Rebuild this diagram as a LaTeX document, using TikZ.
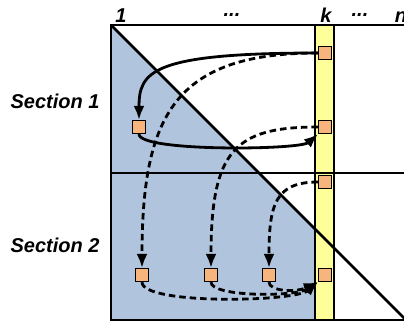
\documentclass[tikz,border=0pt]{standalone}
\usepackage{fontspec}
\setmainfont{Liberation Sans}
\usetikzlibrary{arrows.meta}
\definecolor{blueA}{RGB}{176,196,222}
\definecolor{yelA}{RGB}{255,255,153}
\definecolor{orA}{RGB}{248,180,125}
\tikzset{
  sq/.style={draw=black,fill=orA,line width=1.2pt,minimum size=13pt,inner sep=0pt},
  lab/.style={font=\fontsize{20}{20}\selectfont\bfseries\itshape,inner sep=0pt},
  grid/.style={line width=2.5pt},
  arr/.style={line width=2.8pt,-{Latex[length=14pt,width=11pt]}},
  darr/.style={arr,dash pattern=on 6.5pt off 4pt},
}
\begin{document}
\begin{tikzpicture}[x=1pt,y=-1pt]
\useasboundingbox (0,0) rectangle (404,325);
% blue region
\fill[blueA] (111,25) -- (111,320) -- (315,320) -- (315,229) -- cycle;
% yellow column
\filldraw[fill=yelA,draw=black,line width=2.5pt] (315,25) rectangle (334,320);
% grid lines
\draw[grid] (111,321) -- (111,25) -- (410,25);
\draw[grid] (111,173) -- (410,173);
\draw[grid] (111,320) -- (410,320);
\draw[grid] (111,25) -- (410,324);
% labels
\node[lab,anchor=base] (l1) at (121,22) {1};
\node[lab] (ld1) at (232,15) {...};
\node[lab,anchor=base] (lk) at (326,22) {k};
\node[lab] (ld2) at (360,15) {...};
\node[lab,anchor=base] (ln) at (401,22) {n};
\node[lab] (sec1) at (55,101) {Section 1};
\node[lab] (sec2) at (55,245) {Section 2};
% squares
\node[sq] (s1) at (325,53) {};
\node[sq] (s2) at (139,127) {};
\node[sq] (s3) at (325,127) {};
\node[sq] (s4) at (325,182) {};
\node[sq] (b1) at (142,275) {};
\node[sq] (b2) at (211,275) {};
\node[sq] (b3) at (269,275) {};
\node[sq] (b4) at (325,275) {};
% arrows
\draw[darr] (s1.west) .. controls (175,53) and (142,115) .. (b1.north);
\draw[darr] (s3.west) .. controls (235,127) and (211,150) .. (b2.north);
\draw[darr] (s4.west) .. controls (275,182) and (269,205) .. (b3.north);
\draw[arr] (s1.west) .. controls (150,53) and (139,72) .. (s2.north);
\draw[arr] (s2.south) .. controls (139,152) and (300,150) .. (s3.south west);
\draw[darr] (b1.south) .. controls (142,305) and (295,302) .. (b4.south west);
\draw[darr] (b2.south) .. controls (211,297) and (295,297) .. (b4.south west);
\draw[darr] (b3.south) .. controls (269,291) and (295,293) .. (b4.south west);
\end{tikzpicture}
\end{document}
